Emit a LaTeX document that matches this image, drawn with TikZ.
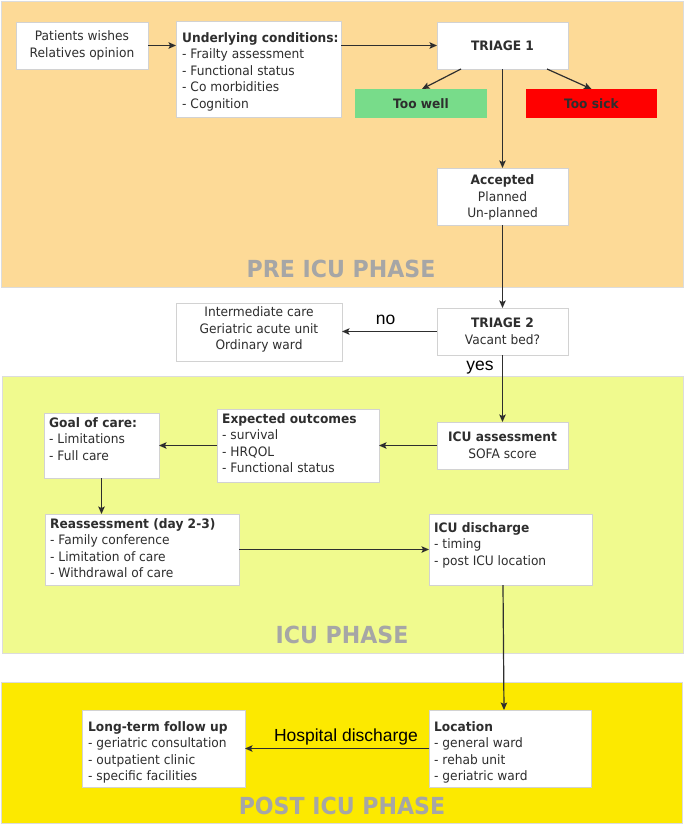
\documentclass[tikz,border=0pt]{standalone}
\usepackage{fontspec}
\setmainfont{DejaVu Sans}[FakeStretch=0.94]
\newfontfamily\arialfont{Liberation Sans}
\usetikzlibrary{arrows.meta,calc}
\definecolor{preBg}{HTML}{FDDA97}
\definecolor{icuBg}{HTML}{F0FA8E}
\definecolor{postBg}{HTML}{FCE900}
\definecolor{wellC}{HTML}{78DC8A}
\definecolor{sickC}{HTML}{FF0000}
\definecolor{txtc}{HTML}{2E2E2E}
\definecolor{phasec}{HTML}{A6A6A6}
\definecolor{boxline}{HTML}{D2D2D2}
\definecolor{panelline}{HTML}{DCDCDC}
\begin{document}
\begin{tikzpicture}[x=1pt,y=-1pt,
  panel/.style={draw=panelline,line width=0.8pt},
  box/.style={draw=boxline,fill=white,line width=0.8pt,inner sep=0pt,outer sep=0pt,anchor=north west},
  flat/.style={inner sep=0pt,outer sep=0pt,anchor=north west},
  txt/.style={inner sep=0pt,text=txtc,font=\fontsize{13}{16.5}\selectfont,align=left,anchor=north west},
  ctxt/.style={inner sep=0pt,text=txtc,font=\fontsize{13}{16.5}\selectfont,align=center},
  lbl/.style={inner sep=0pt,text=black,font=\arialfont\fontsize{17.5}{20}\selectfont,anchor=base},
  phase/.style={inner sep=0pt,text=phasec,font=\fontsize{23.5}{28}\selectfont\bfseries},
  arr/.style={draw=txtc,line width=1.2pt,-{Stealth[length=7.5pt,width=6.5pt,inset=1.5pt]}},
  plain/.style={draw=txtc,line width=1.2pt}]
\useasboundingbox (0,0) rectangle (685,825);
% phase panels
\path[panel,fill=preBg] (1,1) rectangle (683,287);
\path[panel,fill=icuBg] (2,376) rectangle (683,653);
\path[panel,fill=postBg] (1,682) rectangle (682,823);
\node[phase] (prelbl) at (341,268.5) {PRE ICU PHASE};
\node[phase] (iculbl) at (342,634.5) {ICU PHASE};
\node[phase] (postlbl) at (342,805.5) {POST ICU PHASE};
% boxes
\node[box,minimum width=132pt,minimum height=47pt] (pat) at (16,22) {};
\node[box,minimum width=165pt,minimum height=96pt] (und) at (176,21) {};
\node[box,minimum width=131pt,minimum height=47pt] (tri1) at (437,22) {};
\node[flat,fill=wellC,minimum width=132pt,minimum height=29pt] (well) at (355,89) {};
\node[flat,fill=sickC,minimum width=131pt,minimum height=29pt] (sick) at (526,89) {};
\node[box,minimum width=131pt,minimum height=57pt] (acc) at (437,168) {};
\node[box,minimum width=131pt,minimum height=47pt] (tri2) at (437,308) {};
\node[box,minimum width=166pt,minimum height=58pt] (inter) at (176,303) {};
\node[box,minimum width=131pt,minimum height=47pt] (icua) at (437,422) {};
\node[box,minimum width=162pt,minimum height=73pt] (exp) at (217,409) {};
\node[box,minimum width=115pt,minimum height=65pt] (goal) at (44,413) {};
\node[box,minimum width=194pt,minimum height=71pt] (reas) at (45,514) {};
\node[box,minimum width=163pt,minimum height=71pt] (disc) at (429,514) {};
\node[box,minimum width=162pt,minimum height=77pt] (loc) at (429,710) {};
\node[box,minimum width=163pt,minimum height=77pt] (long) at (82,710) {};
% texts
\node[ctxt] (pat-t) at (pat.center) {Patients wishes\\Relatives opinion};
\node[txt] (und-t) at (182,32) {\textbf{Underlying conditions:}\\- Frailty assessment\\- Functional status\\- Co morbidities\\- Cognition};
\node[ctxt] (tri1-t) at (tri1.center) {\textbf{TRIAGE 1}};
\node[ctxt] (well-t) at (well.center) {\textbf{Too well}};
\node[ctxt] (sick-t) at (sick.center) {\textbf{Too sick}};
\node[ctxt] (acc-t) at ($(acc.center)+(0,1)$) {\textbf{Accepted}\\Planned\\Un-planned};
\node[ctxt] (tri2-t) at (tri2.center) {\textbf{TRIAGE 2}\\Vacant bed?};
\node[ctxt,anchor=north] (inter-t) at (259,306.5) {Intermediate care\\Geriatric acute unit\\Ordinary ward};
\node[ctxt] (icua-t) at (icua.center) {\textbf{ICU assessment}\\SOFA score};
\node[txt] (exp-t) at (222,413) {\textbf{Expected outcomes}\\- survival\\- HRQOL\\- Functional status};
\node[txt] (goal-t) at (49,417) {\textbf{Goal of care:}\\- Limitations\\- Full care};
\node[txt] (reas-t) at (50,518) {\textbf{Reassessment (day 2-3)}\\- Family conference\\- Limitation of care\\- Withdrawal of care};
\node[txt] (disc-t) at (434,522) {\textbf{ICU discharge}\\- timing\\- post ICU location};
\node[txt] (loc-t) at (434,721) {\textbf{Location}\\- general ward\\- rehab unit\\- geriatric ward};
\node[txt] (long-t) at (88,721) {\textbf{Long-term follow up}\\- geriatric consultation\\- outpatient clinic\\- specific facilities};
% connectors
\draw[arr] (pat.east) -- (pat.east -| und.west);
\draw[arr] (und.east |- tri1.west) -- (tri1.west);
\draw[arr] ($(tri1.south west)+(24,0)$) -- ($(well.north)+(1,0)$);
\draw[arr] ($(tri1.south east)+(-21,0)$) -- (sick.north);
\draw[arr] (tri1.south) -- (acc.north);
\draw[arr] (acc.south) -- (tri2.north);
\draw[arr] (tri2.west) -- (tri2.west -| inter.east);
\node[lbl] (no) at (385.5,324.3) {no};
\draw[arr] (tri2.south) -- (icua.north);
\node[lbl] (yes) at (480,370) {yes};
\draw[arr] (icua.west) -- (icua.west -| exp.east);
\draw[arr] (exp.west) -- (exp.west -| goal.east);
\draw[arr] (goal.south) -- (goal.south |- reas.north);
\draw[arr] (reas.east) -- (reas.east -| disc.west);
\draw[arr] ($(disc.south west)+(74,0)$) -- ($(loc.north west)+(75,0)$);
\draw[arr] (loc.west) -- (loc.west -| long.east);
\node[lbl] (hosp) at (346,741.4) {Hospital discharge};
\end{tikzpicture}
\end{document}
